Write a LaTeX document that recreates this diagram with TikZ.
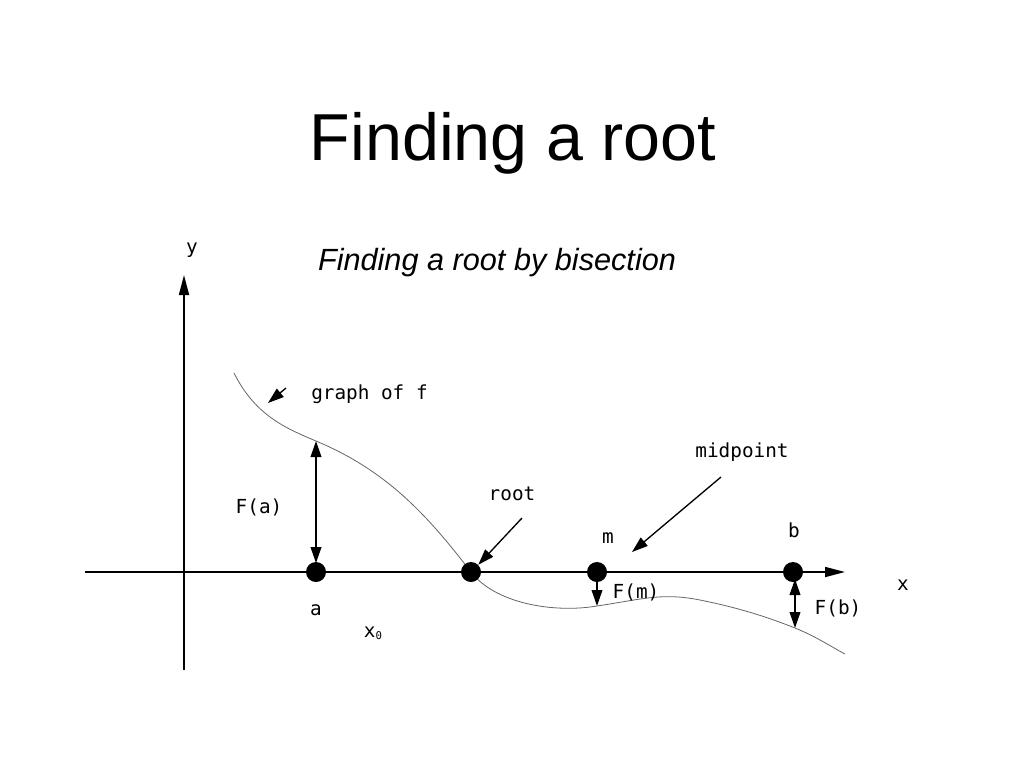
\documentclass[tikz,border=0pt]{standalone}
\usepackage{fontspec}
\setmainfont{Liberation Sans}
\newfontfamily\lblfont{DejaVu Sans Mono}
\usetikzlibrary{arrows.meta}
\tikzset{
  lbl/.style={font=\lblfont\fontsize{14.5}{16}\selectfont, inner sep=0pt, anchor=base},
  dot/.style={circle, fill=black, minimum size=15pt, inner sep=0pt},
  axis/.style={line width=1.3pt, -{Triangle[length=15pt,width=7.5pt]}},
  ptr/.style={line width=1pt, -{Triangle[length=12pt,width=8pt]}},
  dptr/.style={line width=1.2pt, {Triangle[length=12pt,width=8pt]}-{Triangle[length=12pt,width=8pt]}},
  curve/.style={gray!80!black, line width=0.6pt}
}
\begin{document}
\begin{tikzpicture}[x=0.75pt,y=-0.75pt]
\useasboundingbox (0,0) rectangle (1024,768);
\fill[white] (0,0) rectangle (1024,768);
% titles
\node[font=\fontsize{49.8}{56}\selectfont, inner sep=0pt, anchor=base] (title) at (513,160) {Finding a root};
\node[font=\fontsize{23}{27}\selectfont\itshape, inner sep=0pt, anchor=base] (sub) at (497,270) {Finding a root by bisection};
% axes
\coordinate (yb) at (184,670);
\coordinate (yt) at (184,275);
\coordinate (xl) at (85,572);
\coordinate (xr) at (845,572);
\draw[axis] (yb) -- (yt);
\draw[axis] (xl) -- (xr);
\node[lbl] (ylab) at (192,253) {y};
\node[lbl] (xlab) at (903,590) {x};
% curve
\draw[curve] (234,373) .. controls (255,415) and (285,428) .. (316,441)
  .. controls (385,470) and (425,512) .. (471,572)
  .. controls (495,603) and (550,612) .. (590,607)
  .. controls (640,600) and (660,592) .. (700,600)
  .. controls (740,608) and (770,618) .. (795,628)
  .. controls (815,636) and (830,646) .. (845,654);
% points
\node[dot] (a) at (316,572) {};
\node[dot] (r) at (471,572) {};
\node[dot] (m) at (597,572) {};
\node[dot] (b) at (793,572) {};
\coordinate (fa) at (316,441);
\coordinate (fm) at (597,606);
\coordinate (fb) at (795,628);
\coordinate (fbtop) at (795,579);
\draw[dptr] (fa) -- ([yshift=-1pt]a.north);
\draw[ptr, line width=1.2pt] (m.south) -- (fm);
\draw[dptr] (fbtop) -- (fb);
% labels
\node[lbl] (alab) at (316,615) {a};
\node[lbl] (mlab) at (608,543) {m};
\node[lbl] (blab) at (794,537) {b};
\node[lbl] (x0) at (373,637) {x\raisebox{-2pt}{\fontsize{8}{9}\selectfont 0}};
\node[lbl] (Fa) at (259,513) {F(a)};
\node[lbl] (Fm) at (636,598) {F(m)};
\node[lbl] (Fb) at (838,614) {F(b)};
\node[lbl, anchor=base west] (gf) at (311,399) {graph of f};
\node[lbl] (rootlab) at (512,500) {root};
\node[lbl] (midlab) at (742,457) {midpoint};
% pointers
\coordinate (gfs) at (286,388);
\coordinate (gfe) at (268,403);
\draw[ptr] (gfs) -- (gfe);
\coordinate (rs) at (522,518);
\draw[ptr] (rs) -- (r.north east);
\coordinate (ms) at (721,477);
\coordinate (me) at (632,552);
\draw[ptr] (ms) -- (me);
\end{tikzpicture}
\end{document}
